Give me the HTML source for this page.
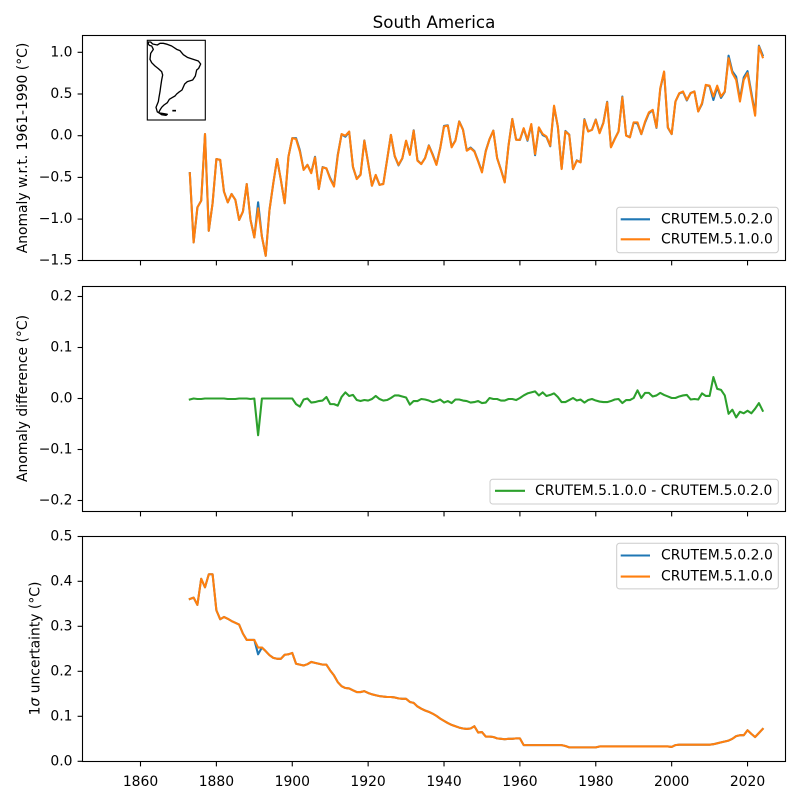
<!DOCTYPE html>
<html>
<head>
<meta charset="utf-8">
<style>
html,body{margin:0;padding:0;background:#fff;}
svg{display:block;}
text{font-family:"DejaVu Sans","Liberation Sans",sans-serif;fill:#000;}
.tk{font-size:13.9px;}
</style>
</head>
<body>
<svg id="fig" width="800" height="800" viewBox="0 0 800 800" xmlns="http://www.w3.org/2000/svg">
<rect x="0" y="0" width="800" height="800" fill="#fff"/>

<!-- Title -->
<text x="434" y="22" font-size="16.7" text-anchor="middle" dominant-baseline="central">South America</text>

<!-- data groups -->
<g id="p1lines" fill="none" stroke-width="2.08" stroke-linejoin="round" stroke-linecap="square"></g>
<g id="p2lines" fill="none" stroke-width="2.08" stroke-linejoin="round" stroke-linecap="square"></g>
<g id="p3lines" fill="none" stroke-width="2.08" stroke-linejoin="round" stroke-linecap="square"></g>

<!-- Axes frames -->
<g fill="none" stroke="#000" stroke-width="1.1">
<rect x="82.5" y="35.5" width="703" height="225"/>
<rect x="82.5" y="286.5" width="703" height="225"/>
<rect x="82.5" y="536.5" width="703" height="225"/>
</g>

<!-- X ticks -->
<g stroke="#000" stroke-width="1.1" id="xticks"></g>
<g class="tk" text-anchor="middle">
<text x="140.5" y="786">1860</text>
<text x="216.4" y="786">1880</text>
<text x="292.3" y="786">1900</text>
<text x="368.1" y="786">1920</text>
<text x="444.0" y="786">1940</text>
<text x="519.9" y="786">1960</text>
<text x="595.8" y="786">1980</text>
<text x="671.7" y="786">2000</text>
<text x="747.5" y="786">2020</text>
</g>

<!-- Y ticks -->
<g stroke="#000" stroke-width="1.1">
<line x1="77.6" y1="52.3" x2="82.5" y2="52.3"/>
<line x1="77.6" y1="94.0" x2="82.5" y2="94.0"/>
<line x1="77.6" y1="135.7" x2="82.5" y2="135.7"/>
<line x1="77.6" y1="177.4" x2="82.5" y2="177.4"/>
<line x1="77.6" y1="219.1" x2="82.5" y2="219.1"/>
<line x1="77.6" y1="260.5" x2="82.5" y2="260.5"/>
<line x1="77.6" y1="296.5" x2="82.5" y2="296.5"/>
<line x1="77.6" y1="347.5" x2="82.5" y2="347.5"/>
<line x1="77.6" y1="398.5" x2="82.5" y2="398.5"/>
<line x1="77.6" y1="449.5" x2="82.5" y2="449.5"/>
<line x1="77.6" y1="500.5" x2="82.5" y2="500.5"/>
<line x1="77.6" y1="536.5" x2="82.5" y2="536.5"/>
<line x1="77.6" y1="581.3" x2="82.5" y2="581.3"/>
<line x1="77.6" y1="626.3" x2="82.5" y2="626.3"/>
<line x1="77.6" y1="671.3" x2="82.5" y2="671.3"/>
<line x1="77.6" y1="716.3" x2="82.5" y2="716.3"/>
<line x1="77.6" y1="761.3" x2="82.5" y2="761.3"/>
</g>
<g class="tk" text-anchor="end" dominant-baseline="central">
<text x="72.5" y="52.3">1.0</text>
<text x="72.5" y="94.0">0.5</text>
<text x="72.5" y="135.7">0.0</text>
<text x="72.5" y="177.4">−0.5</text>
<text x="72.5" y="219.1">−1.0</text>
<text x="72.5" y="260.5">−1.5</text>
<text x="72.5" y="296.5">0.2</text>
<text x="72.5" y="347.5">0.1</text>
<text x="72.5" y="398.5">0.0</text>
<text x="72.5" y="449.5">−0.1</text>
<text x="72.5" y="500.5">−0.2</text>
<text x="72.5" y="536.5">0.5</text>
<text x="72.5" y="581.3">0.4</text>
<text x="72.5" y="626.3">0.3</text>
<text x="72.5" y="671.3">0.2</text>
<text x="72.5" y="716.3">0.1</text>
<text x="72.5" y="761.3">0.0</text>
</g>

<!-- Y labels -->
<text class="tk" transform="translate(23,148) rotate(-90)" text-anchor="middle" dominant-baseline="central">Anomaly w.r.t. 1961-1990 (°C)</text>
<text class="tk" transform="translate(23,398.5) rotate(-90)" text-anchor="middle" dominant-baseline="central">Anomaly difference (°C)</text>
<text class="tk" transform="translate(35.5,648.5) rotate(-90)" text-anchor="middle" dominant-baseline="central">1<tspan font-style="italic">σ</tspan> uncertainty (°C)</text>

<!-- Legend panel 1 -->
<rect x="616.7" y="207.3" width="161.6" height="45.4" rx="2.8" fill="#fff" fill-opacity="0.8" stroke="#cccccc" stroke-width="1"/>
<line x1="620.7" y1="219.3" x2="650" y2="219.3" stroke="#1f77b4" stroke-width="2.08"/>
<line x1="620.7" y1="239.3" x2="650" y2="239.3" stroke="#ff7f0e" stroke-width="2.08"/>
<text class="tk" x="661" y="219.3" dominant-baseline="central">CRUTEM.5.0.2.0</text>
<text class="tk" x="661" y="239.3" dominant-baseline="central">CRUTEM.5.1.0.0</text>

<!-- Legend panel 2 -->
<rect x="490" y="479.3" width="288.3" height="24.7" rx="2.8" fill="#fff" fill-opacity="0.8" stroke="#cccccc" stroke-width="1"/>
<line x1="495" y1="490.8" x2="525" y2="490.8" stroke="#2ca02c" stroke-width="2.08"/>
<text class="tk" x="535" y="490.8" dominant-baseline="central">CRUTEM.5.1.0.0 - CRUTEM.5.0.2.0</text>

<!-- Legend panel 3 -->
<rect x="616.7" y="543.3" width="161.6" height="45.6" rx="2.8" fill="#fff" fill-opacity="0.8" stroke="#cccccc" stroke-width="1"/>
<line x1="620.7" y1="555.5" x2="650" y2="555.5" stroke="#1f77b4" stroke-width="2.08"/>
<line x1="620.7" y1="576.6" x2="650" y2="576.6" stroke="#ff7f0e" stroke-width="2.08"/>
<text class="tk" x="661" y="555.5" dominant-baseline="central">CRUTEM.5.0.2.0</text>
<text class="tk" x="661" y="576.6" dominant-baseline="central">CRUTEM.5.1.0.0</text>

<!-- Inset map -->
<rect x="147.3" y="40.3" width="58" height="79.7" fill="#fff" stroke="#000" stroke-width="1.1"/>
<g transform="translate(80,20) scale(0.33333)" fill="none" stroke="#000" stroke-width="4" stroke-linejoin="round">
<path d="M205,66 L212,66 L218,72 L232,75 L240,70 L250,70 L262,73 L275,78 L290,88 L300,92 L310,104 L322,112 L340,118 L355,123 L362,132 L356,145 L350,150 L346,168 L338,180 L322,185 L314,192 L306,210 L296,217 L290,222 L285,228 L278,232 L268,238 L262,248 L252,255 L245,262 L240,270 L236,278 L245,284 L258,286 L262,283 L252,281 L240,279 L232,276 L228,262 L235,245 L237,232 L240,215 L242,200 L245,180 L248,165 L245,155 L235,146 L225,138 L215,128 L210,118 L212,100 L220,88 L215,78 L208,76 L205,72 Z"/>
<line x1="277" y1="272" x2="288" y2="272" stroke-width="5"/>
</g>
</svg>

<script>
(function(){
var NS="http://www.w3.org/2000/svg";
function X(yr){return 140.5+(yr-1860)*3.794;}
var xt=document.getElementById("xticks");
var bottoms=[260.5,511.5,761.5];
for(var yr=1860;yr<=2020;yr+=20){
  for(var b=0;b<3;b++){
    var l=document.createElementNS(NS,"line");
    l.setAttribute("x1",X(yr));l.setAttribute("x2",X(yr));
    l.setAttribute("y1",bottoms[b]);l.setAttribute("y2",bottoms[b]+4.9);
    xt.appendChild(l);
  }
}
var A=[-0.45,-1.28,-0.86,-0.78,0.02,-1.14,-0.81,
-0.28,-0.29,-0.67,-0.80,-0.70,-0.77,-1.01,-0.91,-0.58,-1.01,
-1.22,-0.87,-1.21,-1.44,-0.89,-0.57,-0.28,-0.53,-0.81,-0.25,
-0.03,-0.04,-0.19,-0.41,-0.35,-0.45,-0.26,-0.64,-0.38,-0.39,
-0.52,-0.61,-0.24,0.02,0.00,0.05,-0.37,-0.52,-0.47,-0.06,
-0.33,-0.60,-0.47,-0.59,-0.58,-0.29,0.01,-0.24,-0.35,-0.27,
-0.06,-0.23,0.06,-0.30,-0.34,-0.27,-0.12,-0.23,-0.35,-0.15,
0.11,0.12,-0.14,-0.06,0.17,0.07,-0.18,-0.15,-0.19,-0.31,
-0.44,-0.19,-0.04,0.06,-0.27,-0.41,-0.56,-0.12,0.20,-0.05,
-0.05,0.09,-0.05,0.14,-0.22,0.10,0.02,-0.01,-0.12,0.36,
0.11,-0.40,0.05,0.01,-0.40,-0.30,-0.32,0.19,0.05,0.07,
0.19,0.03,0.15,0.40,-0.14,-0.04,0.05,0.46,0.00,-0.02,
0.16,0.16,0.02,0.17,0.28,0.31,0.10,0.57,0.77,0.10,
0.02,0.41,0.51,0.53,0.43,0.51,0.53,0.29,0.39,0.61,
0.60,0.47,0.60,0.47,0.53,0.93,0.75,0.67,0.41,0.67,
0.75,0.49,0.24,1.07,0.94];
var D=[-0.002,0,-0.001,-0.001,0,0,0,0,0,0,-0.001,-0.001,-0.001,0,0,0,-0.001,0,
-0.072,
0,0,0,0,0,0,0,0,
0,-0.011,-0.016,-0.002,0,-0.008,-0.007,-0.005,-0.004,0.003,
-0.011,-0.011,-0.014,0.003,0.012,0.005,0.007,-0.003,-0.005,-0.003,
-0.004,-0.001,0.005,-0.001,-0.004,-0.003,0.001,0.006,0.006,0.004,
0.002,-0.012,-0.005,-0.005,-0.001,-0.002,-0.004,-0.007,-0.005,-0.002,
-0.008,-0.005,-0.009,-0.002,-0.002,-0.004,-0.005,-0.008,-0.007,-0.005,
-0.009,-0.008,0.001,-0.001,-0.001,-0.004,-0.004,-0.001,-0.001,-0.003,
0.001,0.006,0.010,0.012,0.014,0.006,0.012,0.005,0.007,0.010,
0.003,-0.007,-0.007,-0.003,0.001,-0.004,-0.002,-0.008,-0.003,-0.001,
-0.004,-0.006,-0.007,-0.007,-0.005,-0.002,-0.001,-0.009,-0.003,-0.003,
0.001,0.016,0.001,0.011,0.011,0.004,0.006,0.011,0.007,0.004,
0.001,0.001,0.004,0.006,0.007,-0.002,-0.001,-0.002,0.010,0.005,
0.005,0.042,0.019,0.017,0.006,-0.030,-0.022,-0.037,-0.026,-0.029,
-0.024,-0.029,-0.020,-0.009,-0.024];
var U=[0.361,0.364,0.348,0.406,0.387,0.416,0.416,
0.336,0.316,0.321,0.317,0.312,0.308,0.304,0.284,0.270,0.270,
0.270,0.253,0.253,0.245,0.236,0.230,0.228,0.228,0.237,0.238,
0.241,0.217,0.215,0.213,0.216,0.221,0.219,0.217,0.215,0.215,
0.202,0.191,0.176,0.167,0.163,0.162,0.158,0.154,0.154,0.156,
0.152,0.149,0.147,0.145,0.144,0.143,0.143,0.142,0.140,0.139,
0.139,0.132,0.130,0.122,0.117,0.113,0.110,0.106,0.101,0.095,
0.090,0.085,0.081,0.078,0.075,0.073,0.072,0.073,0.078,0.064,
0.065,0.055,0.055,0.054,0.051,0.050,0.049,0.050,0.050,0.051,
0.051,0.036,0.036,0.036,0.036,0.036,0.036,0.036,0.036,0.036,
0.036,0.036,0.034,0.031,0.031,0.031,0.031,0.031,0.031,0.031,
0.031,0.033,0.033,0.033,0.033,0.033,0.033,0.033,0.033,0.033,
0.033,0.033,0.033,0.033,0.033,0.033,0.033,0.033,0.033,0.033,
0.032,0.036,0.037,0.037,0.037,0.037,0.037,0.037,0.037,0.037,
0.037,0.038,0.040,0.042,0.044,0.046,0.050,0.056,0.058,0.058,
0.069,0.061,0.054,0.063,0.072];
var B=A.map(function(v,i){return v-D[i];});
var UB=U.slice(); UB[1891-1873]=0.238;
function pts(arr,yf){return arr.map(function(v,i){return X(1873+i).toFixed(2)+","+yf(v).toFixed(2);}).join(" ");}
function add(gid,arr,yf,col){
  var g=document.getElementById(gid);
  var p=document.createElementNS(NS,"polyline");
  p.setAttribute("points",pts(arr,yf));
  p.setAttribute("stroke",col);
  g.appendChild(p);
}
var y1=function(v){return 135.7-v*83.4;};
var y2=function(v){return 398.5-v*510;};
var y3=function(v){return 761.3-v*449.6;};
add("p1lines",B,y1,"#1f77b4");
add("p1lines",A,y1,"#ff7f0e");
add("p2lines",D,y2,"#2ca02c");
add("p3lines",UB,y3,"#1f77b4");
add("p3lines",U,y3,"#ff7f0e");
})();
</script>
</body>
</html>
